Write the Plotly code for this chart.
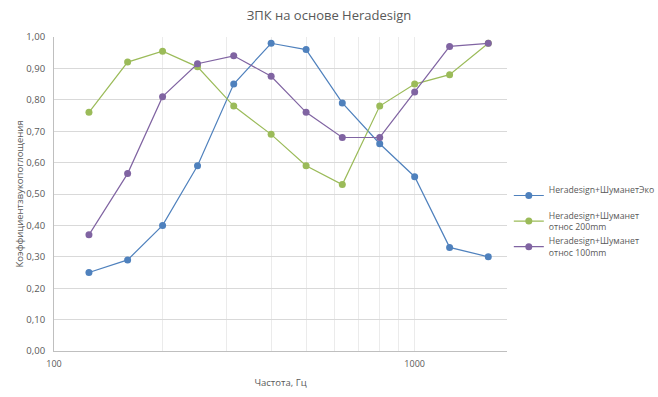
import plotly.graph_objects as go

freq = [125, 160, 200, 250, 315, 400, 500, 630, 800, 1000, 1250, 1600]
eco = [0.25, 0.29, 0.40, 0.59, 0.85, 0.98, 0.96, 0.79, 0.66, 0.555, 0.33, 0.30]
otnos200 = [0.76, 0.92, 0.955, 0.905, 0.78, 0.69, 0.59, 0.53, 0.78, 0.85, 0.88, 0.98]
otnos100 = [0.37, 0.565, 0.81, 0.915, 0.94, 0.875, 0.76, 0.68, 0.68, 0.825, 0.97, 0.98]

names = ["Heradesign+ШуманетЭко<br> ", "Heradesign+Шуманет<br>относ 200mm", "Heradesign+Шуманет<br>относ 100mm"]
colors = ["#4F81BD", "#9BBB59", "#8064A2"]

x_grid = [100, 200, 300, 400, 500, 600, 700, 800, 900, 1000]
x_text = ["100", "", "", "", "", "", "", "", "", "1000"]
y_ticks = [0, 0.1, 0.2, 0.3, 0.4, 0.5, 0.6, 0.7, 0.8, 0.9, 1.0]

fig = go.Figure()
for name, vals, c in zip(names, [eco, otnos200, otnos100], colors):
    fig.add_trace(go.Scatter(x=freq, y=vals, name=name, mode="lines+markers",
                             line=dict(color=c, width=1.2),
                             marker=dict(color=c, size=7)))

fig.update_layout(
    width=658, height=397,
    margin=dict(l=54, r=151, t=37, b=46, autoexpand=False),
    paper_bgcolor="white", plot_bgcolor="white",
    separators=", ",
    font=dict(family="Open Sans", color="#595959", size=9),
    title=dict(text="ЗПК на основе Heradesign", x=0.5, xanchor="center", xref="container",
               y=0.96, yanchor="middle", font=dict(size=13, color="#595959")),
    showlegend=True,
    legend=dict(x=1.004, xanchor="left", y=0.552, yanchor="top",
                font=dict(size=8.7, color="#595959"), tracegroupgap=5,
                itemwidth=30, bgcolor="rgba(0,0,0,0)"),
    xaxis=dict(type="log", range=[2, 3.256], tickvals=x_grid, ticktext=x_text,
               showgrid=True, gridcolor="#EBEBEB", gridwidth=1,
               showline=True, linecolor="#BFBFBF", linewidth=1, ticks="",
               zeroline=False, automargin=False, ticklabelstandoff=4,
               title=dict(text="Частота, Гц", font=dict(size=9.5, color="#595959"), standoff=10),
               tickfont=dict(size=9, color="#595959")),
    yaxis=dict(range=[0, 1.0], tickvals=y_ticks, tickformat=".2f",
               showgrid=True, gridcolor="#D9D9D9", gridwidth=1,
               showline=True, linecolor="#BFBFBF", linewidth=1, ticks="",
               zeroline=False, automargin=False, ticklabelstandoff=6,
               title=dict(text="Коэффициентзвукопоглощения", font=dict(size=9.5, color="#595959"), standoff=0),
               tickfont=dict(size=9.5, color="#595959")),
)

fig.write_html("out.html", config={"displayModeBar": False},
               post_script="document.body.style.margin='0';")
